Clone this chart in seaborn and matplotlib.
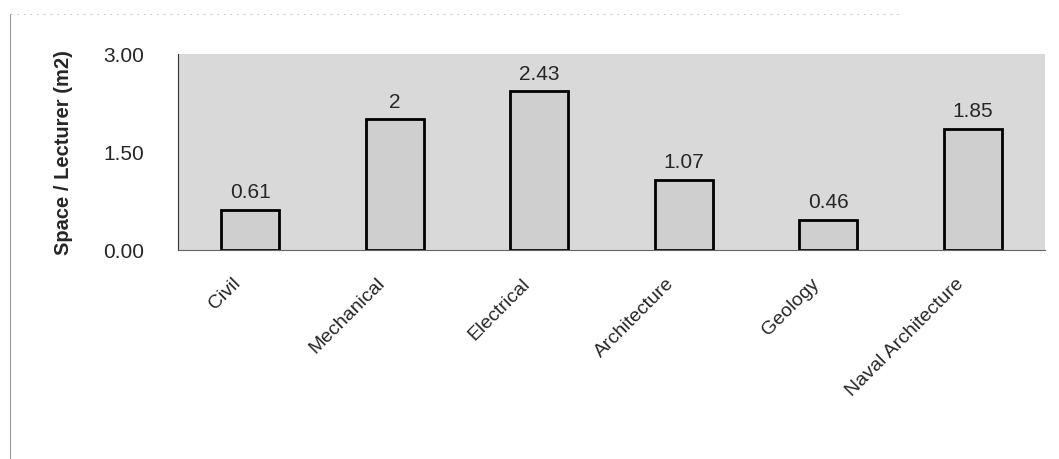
import numpy as np
import pandas as pd
import matplotlib
matplotlib.use('Agg')
import matplotlib.pyplot as plt
import seaborn as sns

departments = ["Civil", "Mechanical", "Electrical", "Architecture", "Geology", "Naval Architecture"]
space_per_lecturer = [0.61, 2.0, 2.43, 1.07, 0.46, 1.85]
value_labels = ["0.61", "2", "2.43", "1.07", "0.46", "1.85"]
y_ticks = [0.0, 1.5, 3.0]

df = pd.DataFrame({"dept": departments, "space": space_per_lecturer})

sns.set_style("white")
plt.rcParams['font.family'] = ['Liberation Sans', 'DejaVu Sans']

fig = plt.figure(figsize=(10.59, 4.59), dpi=100)
ax = fig.add_axes([0.168, 0.455, 0.819, 0.427])
ax.set_facecolor("#d9d9d9")

sns.barplot(data=df, x="dept", y="space", ax=ax, color="#cfcfcf",
            edgecolor="black", linewidth=2, width=0.4, saturation=1)

ax.set_ylim(0, 3.0)
ax.set_xlim(-0.5, len(departments) - 0.5)
ax.set_yticks(y_ticks)
ax.set_yticklabels([f"{t:.2f}" for t in y_ticks])
ax.tick_params(axis="y", length=0, pad=24, labelsize=15)

# Excel style ticks between categories
ax.set_xticks(np.arange(len(departments) + 1) - 0.5, minor=True)
ax.tick_params(axis="x", which="minor", length=5, width=0.8, color="#555555")
ax.set_xticks(range(len(departments)))
ax.set_xticklabels(departments, rotation=45, ha="right", rotation_mode="anchor", fontsize=14)
ax.tick_params(axis="x", which="major", length=0, pad=18)
for lab in ax.get_xticklabels():
    lab.set_x(lab.get_position()[0])
offset = matplotlib.transforms.ScaledTranslation(-0.18, 0, fig.dpi_scale_trans)
for lab in ax.get_xticklabels():
    lab.set_transform(lab.get_transform() + offset)

for i, (v, lab) in enumerate(zip(space_per_lecturer, value_labels)):
    ax.text(i, v + 0.12, lab, ha="center", va="bottom", fontsize=15)

ax.set_xlabel("")
ax.set_ylabel("Space / Lecturer (m2)", fontsize=14.5, fontweight="bold", labelpad=22)

for side in ["top", "right"]:
    ax.spines[side].set_visible(False)
ax.spines["left"].set_color("#333333")
ax.spines["left"].set_linestyle((0, (1, 1)))
ax.spines["bottom"].set_color("#666666")
ax.spines["bottom"].set_linewidth(0.8)

# faint scan frame
fig.add_artist(plt.Line2D([0.009, 0.009], [0.0, 0.97], color="#999999", lw=0.8, transform=fig.transFigure))
fig.add_artist(plt.Line2D([0.009, 0.85], [0.97, 0.97], color="#bbbbbb", lw=0.6, ls=(0, (2, 6)), transform=fig.transFigure))

plt.savefig("out.png", dpi=100)
